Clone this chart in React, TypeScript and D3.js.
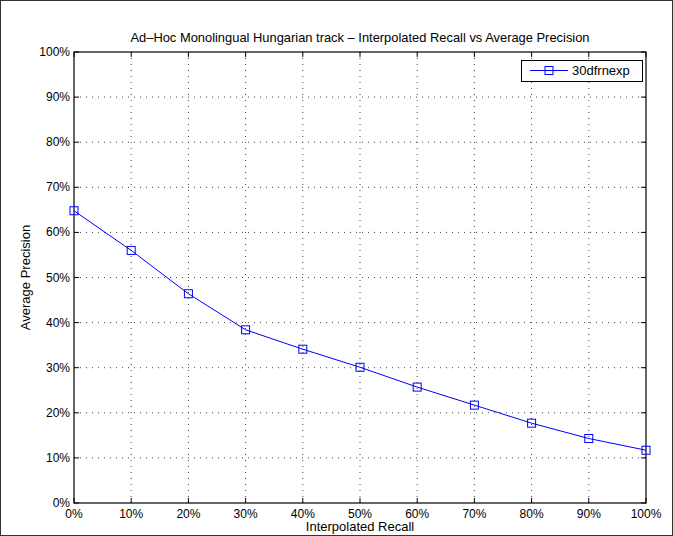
import React from "react";
import * as d3 from "d3";

const recall = [0, 10, 20, 30, 40, 50, 60, 70, 80, 90, 100];
const precision = [64.8, 56.0, 46.4, 38.4, 34.1, 30.1, 25.7, 21.7, 17.7, 14.3, 11.7];
const seriesName = "30dfrnexp";
const xTicks = [0, 10, 20, 30, 40, 50, 60, 70, 80, 90, 100];
const yTicks = [0, 10, 20, 30, 40, 50, 60, 70, 80, 90, 100];
const title = "Ad\u2013Hoc Monolingual Hungarian track \u2013 Interpolated Recall vs Average Precision";
const xLabel = "Interpolated Recall";
const yLabel = "Average Precision";

export default function App() {
  const W = 673, H = 536;
  const L = 74, R = 646, T = 52, B = 503;
  const x = d3.scaleLinear().domain([0, 100]).range([L, R]);
  const y = d3.scaleLinear().domain([0, 100]).range([B, T]);
  const line = d3.line<number>().x((_, i) => x(recall[i])).y((d) => y(d));
  const font = "'Liberation Sans', Arial, Helvetica, sans-serif";
  const tl = 5;
  return (
    <svg width={W} height={H} style={{ position: "absolute", left: 0, top: 0 }} fontFamily={font}>
      <rect x={0} y={0} width={W} height={H} fill="#fff" />
      <rect x={0.5} y={0.5} width={W - 1} height={H - 1} fill="none" stroke="#333" strokeWidth={1} />
      {/* grid */}
      {xTicks.slice(1, -1).map((t) => (
        <line key={"gx" + t} x1={x(t)} x2={x(t)} y1={T} y2={B} stroke="#444" strokeWidth={1} strokeDasharray="1,5" />
      ))}
      {yTicks.slice(1, -1).map((t) => (
        <line key={"gy" + t} x1={L} x2={R} y1={y(t)} y2={y(t)} stroke="#444" strokeWidth={1} strokeDasharray="1,5" />
      ))}
      {/* ticks */}
      {xTicks.map((t) => (
        <g key={"tx" + t}>
          <line x1={x(t)} x2={x(t)} y1={B} y2={B - tl} stroke="#000" />
          <line x1={x(t)} x2={x(t)} y1={T} y2={T + tl} stroke="#000" />
          <text x={x(t)} y={B + 14.5} fontSize={12} textAnchor="middle">{t + "%"}</text>
        </g>
      ))}
      {yTicks.map((t) => (
        <g key={"ty" + t}>
          <line x1={L} x2={L + tl} y1={y(t)} y2={y(t)} stroke="#000" />
          <line x1={R} x2={R - tl} y1={y(t)} y2={y(t)} stroke="#000" />
          <text x={L - 4} y={y(t) + 4} fontSize={12} textAnchor="end">{t + "%"}</text>
        </g>
      ))}
      <rect x={L} y={T} width={R - L} height={B - T} fill="none" stroke="#000" strokeWidth={1.2} />
      {/* series */}
      <path d={line(precision) || ""} fill="none" stroke="#0000ff" strokeWidth={1} />
      {precision.map((p, i) => (
        <rect key={"m" + i} x={x(recall[i]) - 4} y={y(p) - 4} width={8} height={8} fill="none" stroke="#0000ff" strokeWidth={1} />
      ))}
      {/* legend */}
      <rect x={521.5} y={60.5} width={121} height={21} fill="#fff" stroke="#000" strokeWidth={1} />
      <line x1={530} x2={568} y1={70.5} y2={70.5} stroke="#0000ff" />
      <rect x={545} y={66.5} width={8} height={8} fill="none" stroke="#0000ff" />
      <text x={572} y={75} fontSize={13}>{seriesName}</text>
      {/* labels */}
      <text x={(L + R) / 2} y={42} fontSize={12.9} textAnchor="middle">{title}</text>
      <text x={(L + R) / 2} y={531} fontSize={13} textAnchor="middle">{xLabel}</text>
      <text transform={`translate(30,${(T + B) / 2}) rotate(-90)`} fontSize={13} textAnchor="middle">{yLabel}</text>
    </svg>
  );
}
